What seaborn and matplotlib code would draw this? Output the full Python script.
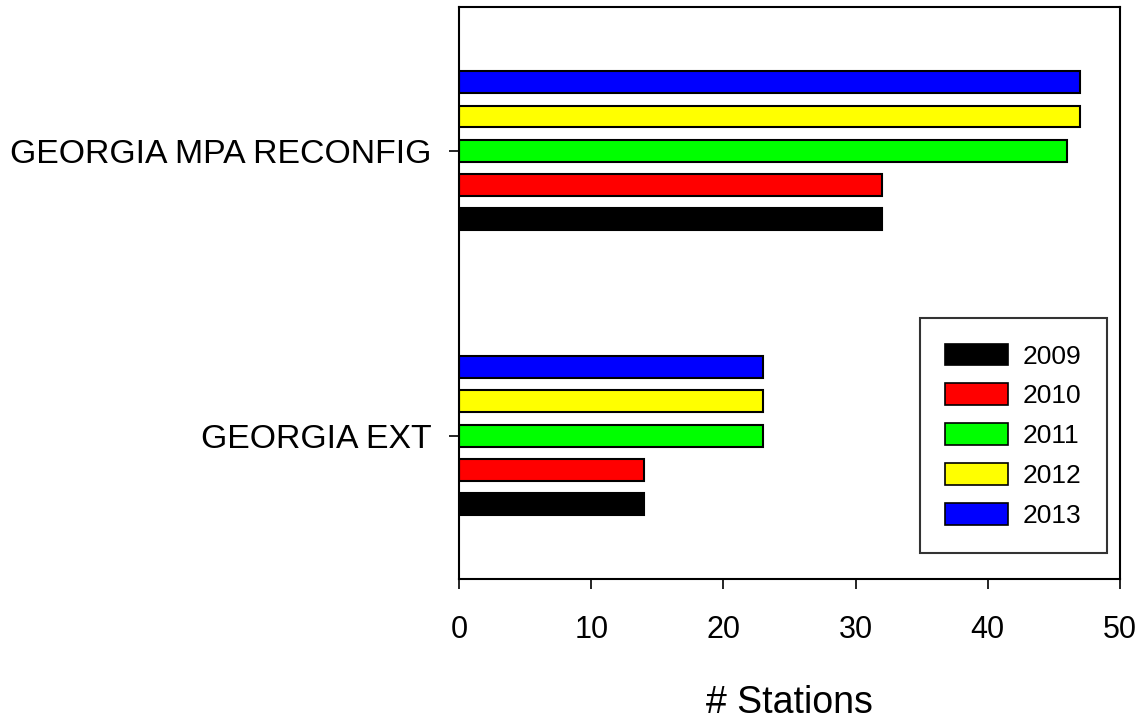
import pandas as pd
import seaborn as sns
import matplotlib.pyplot as plt
from matplotlib.patches import Patch

# -----------------------------
# DATA
# -----------------------------
sites = ["GEORGIA MPA RECONFIG", "GEORGIA EXT"]
years = ["2009", "2010", "2011", "2012", "2013"]
colors = ["#000000", "#FF0000", "#00FF00", "#FFFF00", "#0000FF"]

mpa_reconfig = [32, 32, 46, 47, 47]
ext = [14, 14, 23, 23, 23]

x_ticks = [0, 10, 20, 30, 40, 50]

rows = []
for site, vals in zip(sites, [mpa_reconfig, ext]):
    for yr, v in zip(years, vals):
        rows.append({"site": site, "year": yr, "stations": v})
df = pd.DataFrame(rows)

# -----------------------------
# PLOT
# -----------------------------
sns.set_style("white")
plt.rcParams["font.family"] = ["Liberation Sans", "DejaVu Sans"]
plt.rcParams["text.color"] = "black"
plt.rcParams["axes.labelcolor"] = "black"
plt.rcParams["xtick.color"] = "black"
plt.rcParams["ytick.color"] = "black"

fig = plt.figure(figsize=(11.42, 7.22), dpi=100)
ax = fig.add_axes([0.402, 0.198, 0.5787, 0.792])

# 2013 drawn on top within each group, so reverse hue order
palette = dict(zip(years, colors))
sns.barplot(
    data=df, x="stations", y="site", hue="year",
    order=sites, hue_order=years[::-1], palette=palette,
    orient="h", width=0.6, gap=0.36,
    edgecolor="black", linewidth=1.5, saturation=1,
    legend=False, ax=ax,
)

ax.set_xlim(0, 50)
ax.set_ylim(1.5035, -0.5035)
ax.set_xticks(x_ticks)
ax.set_xlabel("# Stations", fontsize=27, labelpad=29)
ax.set_ylabel("")

for s in ax.spines.values():
    s.set_visible(True)
    s.set_color("black")
    s.set_linewidth(1.5)

ax.tick_params(axis="x", direction="out", length=7, width=1.2, pad=19,
               labelsize=22, bottom=True)
ax.tick_params(axis="y", direction="out", length=7, width=1.2, pad=13,
               labelsize=24.3, left=True)

handles = [Patch(facecolor=c, edgecolor="black", linewidth=1.2) for c in colors]
leg = ax.legend(
    handles, years, loc="lower right", bbox_to_anchor=(0.9803, 0.0455),
    borderaxespad=0, fontsize=19, frameon=True, fancybox=False,
    handlelength=2.4, handleheight=0.9, handletextpad=0.57,
    labelspacing=0.56, borderpad=0.95,
)
leg.get_frame().set_edgecolor("black")
leg.get_frame().set_linewidth(1.5)

plt.savefig("out.png", dpi=100)
plt.close(fig)
